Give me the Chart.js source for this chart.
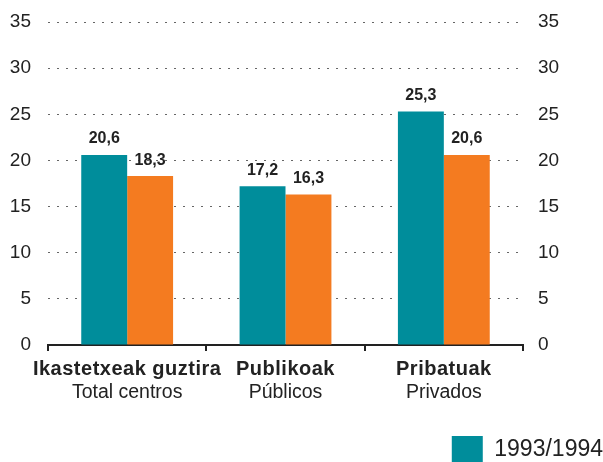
<!DOCTYPE html>
<html>
<head>
<meta charset="utf-8">
<script src="https://cdn.jsdelivr.net/npm/chart.js@4.4.1/dist/chart.umd.min.js"></script>
<style>
html, body { margin: 0; padding: 0; background: #fff; }
#wrap { width: 603px; height: 462px; }
</style>
</head>
<body>
<div id="wrap"><canvas id="barChart"></canvas></div>
<script>
// chart data
const categoriesEu = ['Ikastetxeak guztira', 'Publikoak', 'Pribatuak'];
const categoriesEs = ['Total centros', 'Públicos', 'Privados'];
const seriesNames = ['1993/1994', '2004/2005'];
const values1993 = [20.6, 17.2, 25.3];
const values2004 = [18.3, 16.3, 20.6];
const yTickValues = [0, 5, 10, 15, 20, 25, 30, 35];

const FONT = '"Liberation Sans", Arial, sans-serif';
const TEAL = '#008d9b';
const ORANGE = '#f47b20';

// value labels above the bars
const barValueLabels = {
	id: 'barValueLabels',
	afterDatasetsDraw(chart) {
		const c = chart.ctx;
		c.save();
		c.font = 'bold 16px ' + FONT;
		c.fillStyle = '#222';
		c.textAlign = 'center';
		c.textBaseline = 'bottom';
		chart.data.datasets.forEach((ds, i) => {
			chart.getDatasetMeta(i).data.forEach((bar, j) => {
				c.fillText(ds.data[j].toFixed(1).replace('.', ','), bar.x, bar.y - 8);
			});
		});
		c.restore();
	}
};

// two line category labels, first line bold
const categoryLabels = {
	id: 'categoryLabels',
	afterDraw(chart) {
		const c = chart.ctx;
		const xs = chart.scales.x;
		c.save();
		c.fillStyle = '#222';
		c.textAlign = 'center';
		c.textBaseline = 'middle';
		categoriesEu.forEach((label, j) => {
			const x = xs.getPixelForValue(j);
			c.font = 'bold 20px ' + FONT;
			c.letterSpacing = '0.5px';
			c.fillText(label, x, xs.top + 24);
			c.font = '19.5px ' + FONT;
			c.letterSpacing = '0px';
			c.fillText(categoriesEs[j], x, xs.top + 48);
		});
		c.restore();
	}
};

const gridColor = (ctx) => ctx.tick && ctx.tick.value === 0 ? 'rgba(0,0,0,0)' : '#666';

const yTickOpts = {
	color: '#222',
	font: { family: FONT, size: 19 },
	padding: 0,
	stepSize: 5,
	callback: (v) => yTickValues.includes(v) ? String(v) : ''
};

new Chart(document.getElementById('barChart'), {
	type: 'bar',
	data: {
		labels: categoriesEu,
		datasets: [
			{ label: seriesNames[0], data: values1993, backgroundColor: TEAL },
			{ label: seriesNames[1], data: values2004, backgroundColor: ORANGE }
		]
	},
	options: {
		responsive: true,
		maintainAspectRatio: false,
		animation: false,
		events: [],
		layout: { padding: { top: 22, right: 0, left: 0, bottom: -11 } },
		datasets: {
			bar: { categoryPercentage: 0.58, barPercentage: 1.0 }
		},
		scales: {
			x: {
				grid: {
					offset: true,
					drawOnChartArea: false,
					drawTicks: true,
					tickLength: 6,
					color: '#222',
					lineWidth: 2
				},
				border: { display: true, color: '#222', width: 2 },
				ticks: { display: false },
				afterFit: (s) => { s.height = 91; }
			},
			y: {
				position: 'left',
				min: 0,
				max: 35,
				grid: {
					drawTicks: true,
					tickLength: 17,
					tickColor: 'rgba(0,0,0,0)',
					color: gridColor,
					lineWidth: 1,
					borderDash: [2, 7]
				},
				border: { display: false, dash: [2, 7] },
				ticks: yTickOpts,
				afterFit: (s) => { s.width = 48; }
			},
			y2: {
				position: 'right',
				min: 0,
				max: 35,
				grid: { drawOnChartArea: false, drawTicks: true, tickLength: 15, tickColor: 'rgba(0,0,0,0)' },
				border: { display: false },
				ticks: yTickOpts,
				afterFit: (s) => { s.width = 80; }
			}
		},
		plugins: {
			tooltip: { enabled: false },
			legend: {
				position: 'bottom',
				align: 'end',
				labels: {
					boxWidth: 31,
					boxHeight: 27,
					padding: 0,
					color: '#222',
					font: { family: FONT, size: 23 },
					filter: (item) => item.datasetIndex === 0
				}
			}
		}
	},
	plugins: [barValueLabels, categoryLabels]
});
</script>
</body>
</html>
